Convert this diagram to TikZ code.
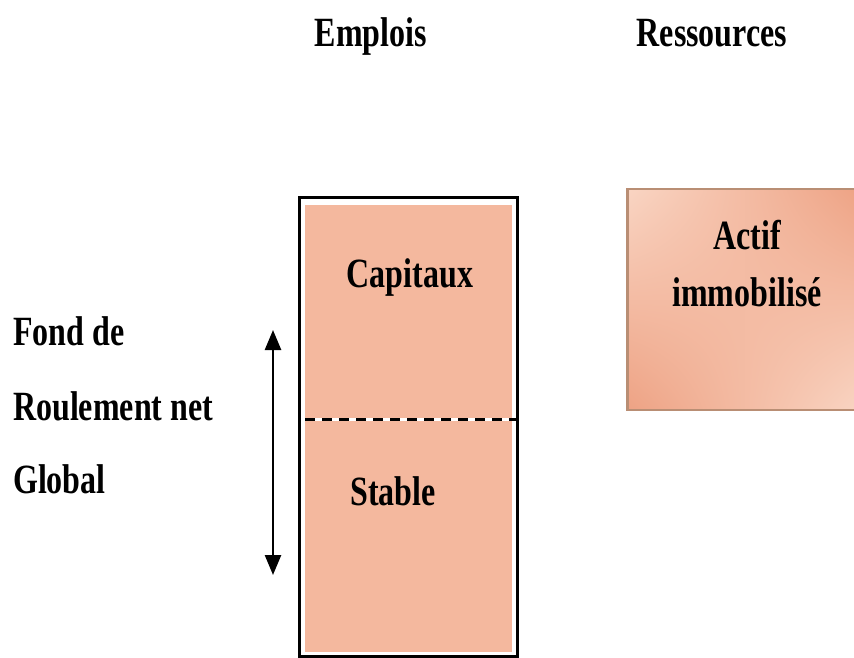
\documentclass[tikz,border=0pt]{standalone}
\usepackage{fontspec}
\setmainfont{Liberation Serif}
\usepackage{xcolor}
\usetikzlibrary{arrows.meta}
\usetikzlibrary{shadings}

\definecolor{saumon}{HTML}{F4B89E}
\definecolor{saumonclair}{HTML}{F9D4C2}
\definecolor{saumonfonce}{HTML}{EEA385}
\definecolor{ombre}{HTML}{B98E74}

\tikzset{
  texte/.style={inner sep=0pt,yscale=1.3,font=\fontsize{32}{44}\selectfont\bfseries}
}

\begin{document}
\begin{tikzpicture}[x=1pt,y=1pt]
\clip (0,0) rectangle (854,657);
\fill[white] (0,0) rectangle (854,657);

% colonne des emplois
\draw[line width=3pt] (299,1) rectangle (517,459);
\fill[saumon] (305,5) rectangle (512,452);
\draw[white,line width=3pt] (305,238) -- (517,238);
\draw[black,line width=3pt,dash pattern=on 10pt off 7pt] (305,238) -- (517,238);

% bloc des ressources
\fill[ombre] (626,246) rectangle (860,469);
\shade[upper left=saumonclair,upper right=saumonfonce,
       lower left=saumonfonce,lower right=saumonclair] (629,249) rectangle (860,466);

\begin{scope}[every node/.style={texte,anchor=base}]
    \node (emplois) at (371,610) {Emplois};
    \node (ressources) at (712,610) {Ressources};
    \node (capitaux) at (410,369) {Capitaux};
    \node (stable) at (393,152) {Stable};
    \node[align=center] (actif) at (747,350) {Actif\\immobilisé};
    \node[anchor=base west] (fond) at (13,312) {Fond de};
    \node[anchor=base west] (roulement) at (13,237) {Roulement net};
    \node[anchor=base west] (global) at (13,164) {Global};
    \end{scope}

\coordinate (haut) at (273,327);
\coordinate (bas) at (273,82);

\begin{scope}[>={Triangle[length=20pt,width=16pt]}]
    \draw[<->,line width=2.5pt] (haut) -- (bas);
    \end{scope}

\end{tikzpicture}
\end{document}
